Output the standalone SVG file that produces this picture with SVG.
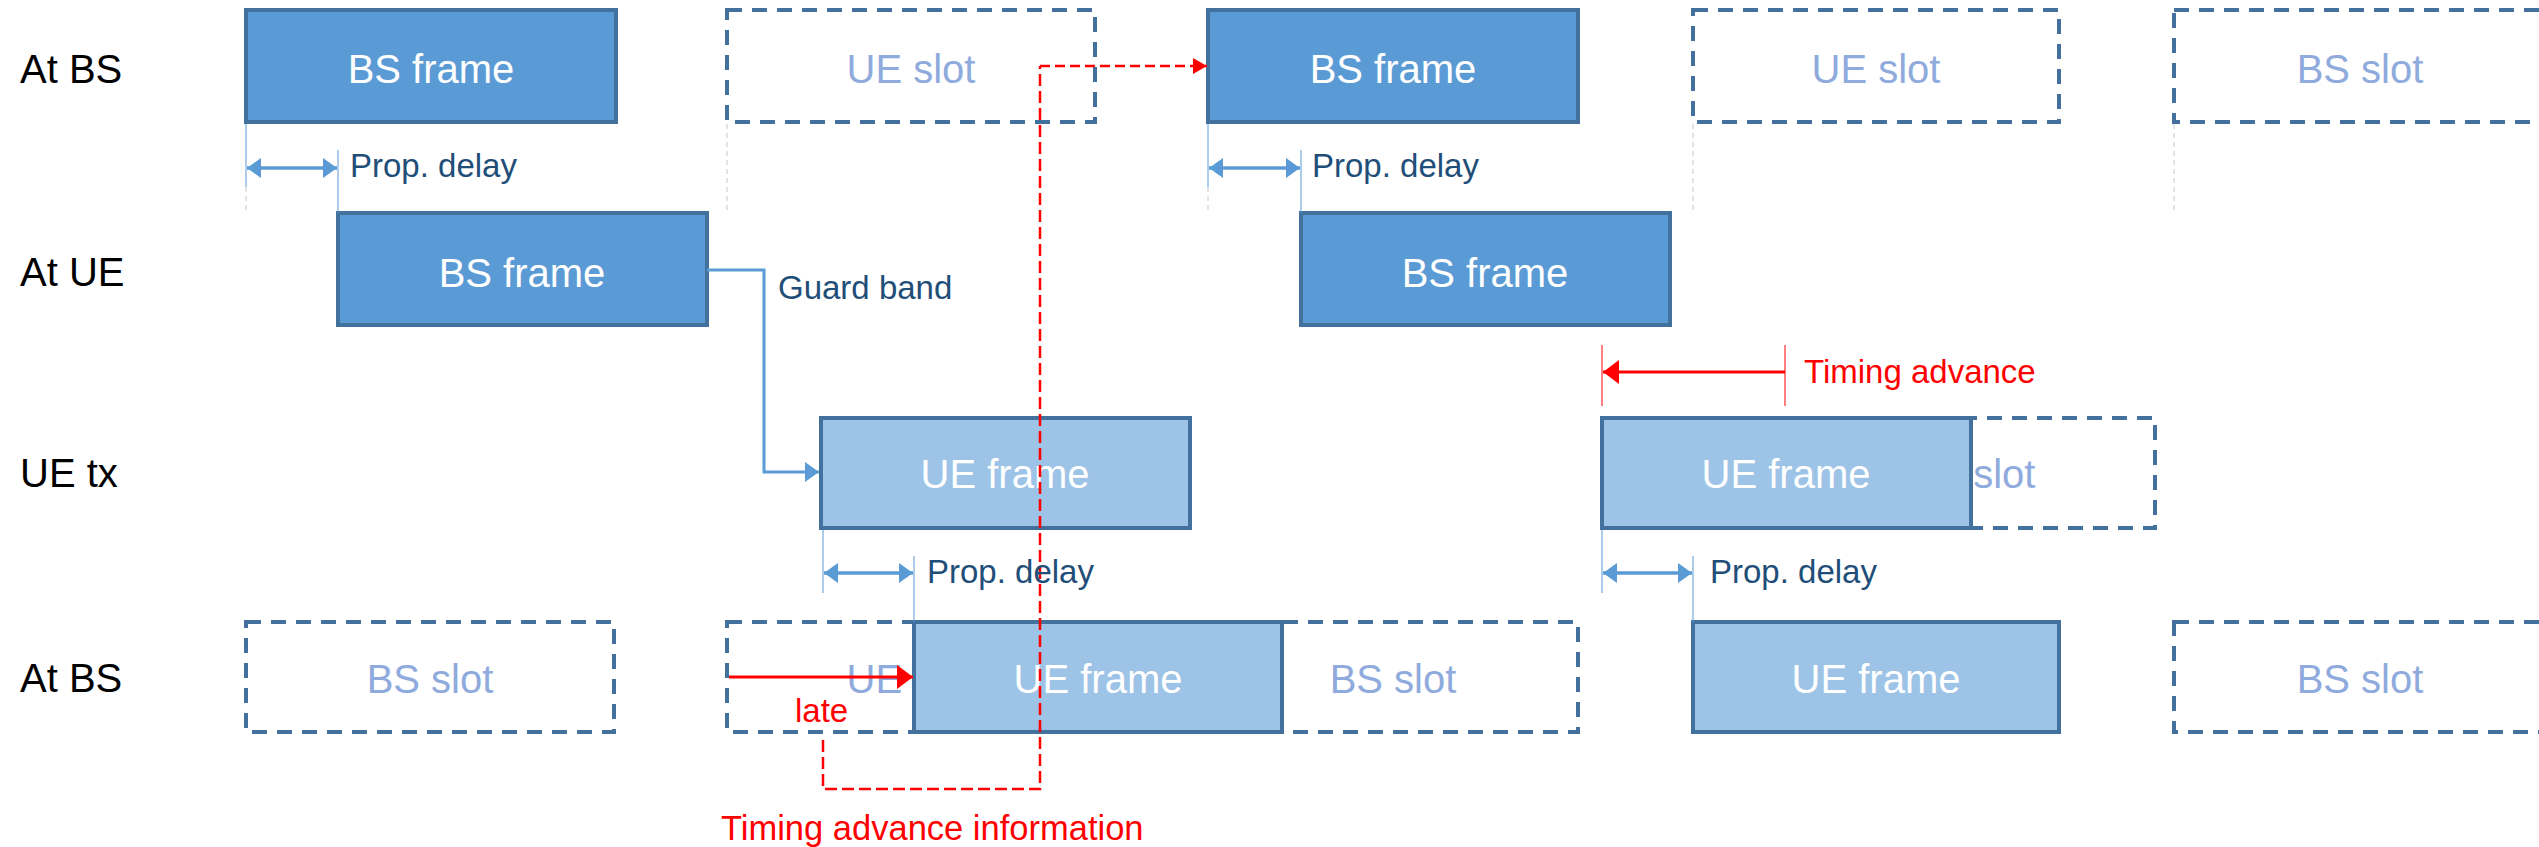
<svg xmlns="http://www.w3.org/2000/svg" width="2539" height="847" viewBox="0 0 2539 847">
<style>
text{font-family:"Liberation Sans",Arial,sans-serif}
.row{font-size:40px;fill:#000}
.bt{font-size:40px;fill:#fff;text-anchor:middle}
.st{font-size:40px;fill:#8FAADC;text-anchor:middle}
.lbl{font-size:33px;fill:#1F4E79}
.red{font-size:33px;fill:#FF0000}
.bs{fill:#5B9BD5;stroke:#41719C;stroke-width:4}
.ue{fill:#9DC3E6;stroke:#41719C;stroke-width:4}
.slot{fill:#fff;stroke:#41719C;stroke-width:4;stroke-dasharray:15 10}
.tick{stroke:#5B9BD5;stroke-width:1;fill:none}
.grid{stroke:#C8C8C8;stroke-width:1;stroke-dasharray:5 4;fill:none}
.pd{stroke:#5B9BD5;stroke-width:3.5;fill:none;marker-start:url(#ba);marker-end:url(#ba)}
.rtick{stroke:#FF0000;stroke-width:1;fill:none}
</style>
<defs>
<marker id="ba" viewBox="0 0 14 20" refX="14" refY="10" markerWidth="14" markerHeight="20" markerUnits="userSpaceOnUse" orient="auto-start-reverse"><path d="M0,0 L14,10 L0,20 Z" fill="#5B9BD5"/></marker>
<marker id="ra" viewBox="0 0 16 24" refX="16" refY="12" markerWidth="16" markerHeight="24" markerUnits="userSpaceOnUse" orient="auto"><path d="M0,0 L16,12 L0,24 Z" fill="#FF0000"/></marker>
<marker id="ras" viewBox="0 0 14 16" refX="14" refY="8" markerWidth="14" markerHeight="16" markerUnits="userSpaceOnUse" orient="auto"><path d="M0,0 L14,8 L0,16 Z" fill="#FF0000"/></marker>
</defs>

<g id="row-labels">
<text class="row" x="20" y="83">At BS</text>
<text class="row" x="20" y="286">At UE</text>
<text class="row" x="20" y="487">UE tx</text>
<text class="row" x="20" y="692">At BS</text>
</g>

<g id="guides">
<line class="grid" x1="246" y1="187" x2="246" y2="212"/>
<line class="grid" x1="727" y1="124" x2="727" y2="212"/>
<line class="grid" x1="1208" y1="187" x2="1208" y2="212"/>
<line class="grid" x1="1693" y1="124" x2="1693" y2="212"/>
<line class="grid" x1="2174" y1="124" x2="2174" y2="212"/>
</g>

<!-- Row 1: At BS -->
<g id="r1-bsframe1"><rect class="bs" x="246" y="10" width="370" height="112"/><text class="bt" x="431" y="83">BS frame</text></g>
<g id="r1-ueslot1"><rect class="slot" x="727" y="10" width="368" height="112"/><text class="st" x="911" y="83">UE slot</text></g>
<g id="r1-bsframe2"><rect class="bs" x="1208" y="10" width="370" height="112"/><text class="bt" x="1393" y="83">BS frame</text></g>
<g id="r1-ueslot2"><rect class="slot" x="1693" y="10" width="366" height="112"/><text class="st" x="1876" y="83">UE slot</text></g>
<g id="r1-bsslot"><rect class="slot" x="2174" y="10" width="372" height="112"/><text class="st" x="2360" y="83">BS slot</text></g>

<!-- Row 2: At UE -->
<g id="r2-bsframe1"><rect class="bs" x="338" y="213" width="369" height="112"/><text class="bt" x="522" y="287">BS frame</text></g>
<g id="r2-bsframe2"><rect class="bs" x="1301" y="213" width="369" height="112"/><text class="bt" x="1485" y="287">BS frame</text></g>

<!-- Row 3: UE tx -->
<g id="r3-ueframe1"><rect class="ue" x="821" y="418" width="369" height="110"/><text class="bt" x="1005" y="488">UE frame</text></g>
<g id="r3-ueslot"><rect class="slot" x="1787" y="418" width="368" height="110"/><text class="st" x="1971" y="488">UE slot</text></g>
<g id="r3-ueframe2"><rect class="ue" x="1602" y="418" width="369" height="110"/><text class="bt" x="1786" y="488">UE frame</text></g>

<!-- Row 4: At BS -->
<g id="r4-bsslot1"><rect class="slot" x="246" y="622" width="368" height="110"/><text class="st" x="430" y="693">BS slot</text></g>
<g id="r4-ueslot"><rect class="slot" x="727" y="622" width="368" height="110"/><text class="st" x="911" y="693">UE slot</text></g>
<g id="r4-bsslot2"><rect class="slot" x="1208" y="622" width="370" height="110"/><text class="st" x="1393" y="693">BS slot</text></g>
<g id="r4-ueframe1"><rect class="ue" x="914" y="622" width="368" height="110"/><text class="bt" x="1098" y="693">UE frame</text></g>
<g id="r4-ueframe2"><rect class="ue" x="1693" y="622" width="366" height="110"/><text class="bt" x="1876" y="693">UE frame</text></g>
<g id="r4-bsslot3"><rect class="slot" x="2174" y="622" width="372" height="110"/><text class="st" x="2360" y="693">BS slot</text></g>

<g id="connectors">
<line class="tick" x1="246" y1="124" x2="246" y2="187"/>
<line class="tick" x1="338" y1="150" x2="338" y2="213"/>
<line class="pd" x1="247" y1="168" x2="337" y2="168"/>
<line class="tick" x1="1208" y1="124" x2="1208" y2="187"/>
<line class="tick" x1="1301" y1="150" x2="1301" y2="213"/>
<line class="pd" x1="1209" y1="168" x2="1300" y2="168"/>
<line class="tick" x1="823" y1="530" x2="823" y2="593"/>
<line class="tick" x1="914" y1="556" x2="914" y2="622"/>
<line class="pd" x1="824" y1="573" x2="913" y2="573"/>
<line class="tick" x1="1602" y1="530" x2="1602" y2="593"/>
<line class="tick" x1="1693" y1="556" x2="1693" y2="622"/>
<line class="pd" x1="1603" y1="573" x2="1692" y2="573"/>
<path d="M707,270 H764 V472 H819" fill="none" stroke="#5B9BD5" stroke-width="3" marker-end="url(#ba)"/>
<line class="rtick" x1="1602" y1="345" x2="1602" y2="406"/>
<line class="rtick" x1="1785" y1="345" x2="1785" y2="406"/>
<line x1="1785" y1="372" x2="1603" y2="372" stroke="#FF0000" stroke-width="3" marker-end="url(#ra)"/>
<line x1="729" y1="677" x2="913" y2="677" stroke="#FF0000" stroke-width="3" marker-end="url(#ra)"/>
<path d="M823,740 V789 H1040 V66" fill="none" stroke="#FF0000" stroke-width="2.5" stroke-dasharray="12 5"/>
<line x1="1040" y1="66" x2="1207" y2="66" stroke="#FF0000" stroke-width="2.5" stroke-dasharray="10 5" marker-end="url(#ras)"/>
</g>

<g id="labels">
<text class="lbl" x="350" y="177">Prop. delay</text>
<text class="lbl" x="1312" y="177">Prop. delay</text>
<text class="lbl" x="927" y="583">Prop. delay</text>
<text class="lbl" x="1710" y="583">Prop. delay</text>
<text class="lbl" x="778" y="299">Guard band</text>
<text class="red" x="1804" y="383">Timing advance</text>
<text class="red" x="795" y="722">late</text>
<text class="red" x="721" y="840" style="font-size:34.5px">Timing advance information</text>
</g>
</svg>
